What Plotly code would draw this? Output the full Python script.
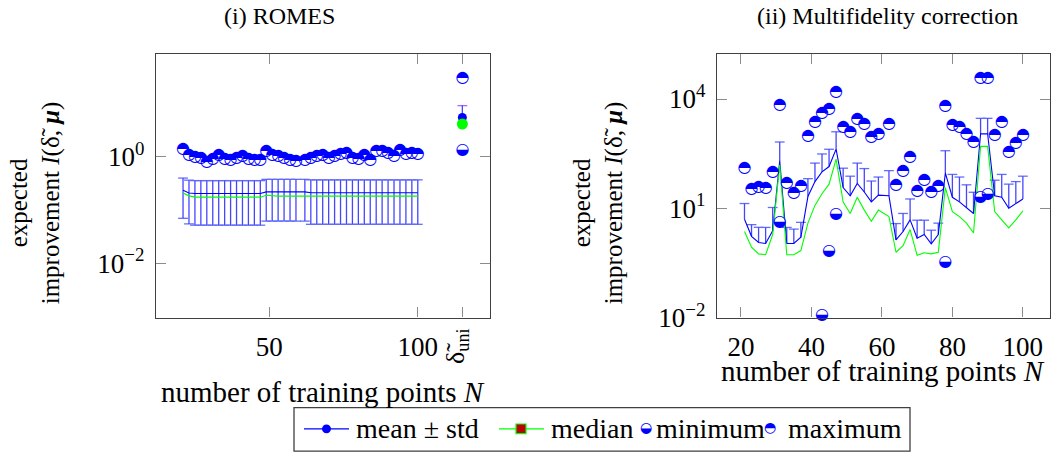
import plotly.graph_objects as go

W, H = 1060, 470
SERIF = "Liberation Serif"
BLUE = "#0000ff"
BAR = "#4646ff"
GREEN = "#00ff00"
FRAME = "#404040"
TICK = "#8c8c8c"

# number of training points N
N = [21, 23, 25, 27, 29, 31, 33, 35, 37, 39, 41, 43, 45, 47, 49, 51, 53, 55, 57, 59,
     62, 64, 66, 68, 70, 72, 74, 76, 78, 80, 82, 84, 86, 88, 90, 92, 94, 96, 98, 100]

# (i) ROMES
romes_mean = [0.235, 0.21, 0.205, 0.205, 0.205, 0.205, 0.205, 0.205, 0.205, 0.205,
              0.205, 0.205, 0.205, 0.205, 0.22, 0.22, 0.22, 0.22, 0.22, 0.22,
              0.22, 0.212, 0.212, 0.212, 0.212, 0.212, 0.212, 0.212, 0.212, 0.212,
              0.212, 0.212, 0.212, 0.212, 0.212, 0.212, 0.212, 0.212, 0.212, 0.212]
romes_std = [0.165, 0.155, 0.153, 0.153, 0.153, 0.153, 0.153, 0.153, 0.153, 0.153,
             0.153, 0.153, 0.153, 0.153, 0.158, 0.158, 0.158, 0.158, 0.158, 0.158,
             0.158, 0.158, 0.158, 0.158, 0.158, 0.158, 0.158, 0.158, 0.158, 0.158,
             0.158, 0.158, 0.158, 0.158, 0.158, 0.158, 0.158, 0.158, 0.158, 0.158]
romes_median = [0.21, 0.185, 0.175, 0.175, 0.175, 0.175, 0.175, 0.175, 0.175, 0.175,
                0.175, 0.175, 0.175, 0.175, 0.19, 0.185, 0.183, 0.183, 0.183, 0.183,
                0.183, 0.183, 0.183, 0.183, 0.183, 0.183, 0.183, 0.183, 0.183, 0.183,
                0.183, 0.183, 0.183, 0.183, 0.183, 0.183, 0.183, 0.183, 0.183, 0.183]
romes_max = [1.42, 1.07, 0.99, 0.96, 0.81, 0.93, 1.10, 0.93, 0.86, 0.96,
             1.06, 0.93, 0.89, 0.89, 1.27, 1.10, 1.06, 0.96, 0.86, 0.83,
             0.86, 0.96, 1.03, 1.10, 0.96, 1.03, 1.13, 1.16, 0.96, 0.93,
             1.10, 0.89, 1.27, 1.27, 1.18, 1.03, 1.34, 1.13, 1.16, 1.13]

# uniform-indicator reference (delta_uni), shown next to the ROMES series
uni_pos = 115
uni_mean = 5.5
uni_std = 3.7
uni_median = 4.15
uni_min = 1.36
uni_max = 30.5

# (ii) Multifidelity correction
mf_mean = [5.0, 1.7, 1.15, 1.08, 2.4, 200, 1.08, 1.08, 1.6, 21,
           54, 100, 140, 420, 37, 22, 48, 28, 15, 23,
           22, 1.35, 2.3, 4.8, 1.5, 1.9, 1.05, 1.9, 93, 20,
           15, 10.5, 7.2, 1100, 1100, 22, 20, 10, 13.5, 18]
mf_std = [8.5, 1.85, 1.85, 1.9, 8.1, 460, 1.9, 1.6, 2.5, 44,
          120, 210, 277, 840, 89, 54, 126, 95, 41, 49,
          86, 2.45, 4.9, 13.2, 3.2, 2.8, 1.45, 2.0, 287, 65,
          57, 33.5, 20.3, 1850, 1850, 37, 65, 36, 40.5, 58]
mf_median = [2.3, 0.85, 0.56, 0.53, 1.9, 157, 0.53, 0.53, 0.69, 3.9,
             12, 25, 46, 224, 14.8, 7.2, 20, 8.9, 4.4, 8.9,
             5.9, 0.62, 0.94, 2.6, 0.51, 0.6, 0.56, 0.62, 37, 8.1,
             5.9, 3.9, 2.1, 500, 500, 8.1, 4.8, 2.9, 4.8, 8.5]
mf_min = [0, 0, 0, 0, 0, 4.3, 0, 0, 0, 0,
          0, 0.0115, 0.69, 6.8, 0, 0, 0, 0, 0, 0,
          0, 0, 0, 0, 0, 0, 0, 0, 0.34, 0,
          0, 0, 0, 21, 24, 0, 0, 0, 0, 0]
mf_max = [129, 34, 39, 35, 98, 6900, 48, 26, 42, 955,
          2400, 4170, 5250, 15500, 1700, 1260, 2750, 2040, 910, 1100,
          2000, 44, 105, 250, 30, 60, 27.5, 42, 6450, 1950,
          1700, 1100, 660, 38000, 38000, 1020, 2400, 340, 630, 1020]

fig = go.Figure()


def xp(p):
    return p / W


def yp(p):
    return 1 - p / H


def add_mean(x, mean, std, xa, ya, plus_only=False, marker=None):
    """Mean line with mean +/- std whiskers (lower whisker only where it stays positive)."""
    lower = [0 if (plus_only or m - s <= 0) else s for m, s in zip(mean, std)]
    cap_x, cap_y = [], []
    for xi, m, s, lo in zip(x, mean, std, lower):
        cap_x.append(xi)
        cap_y.append(m + s)
        if lo > 0:
            cap_x.append(xi)
            cap_y.append(m - lo)
    fig.add_trace(go.Scatter(
        x=cap_x, y=cap_y, mode="markers", xaxis=xa, yaxis=ya,
        marker=dict(symbol="line-ew-open", size=7, line=dict(color=BAR, width=1.3)),
        showlegend=False, hoverinfo="skip", cliponaxis=False))
    fig.add_trace(go.Scatter(
        x=x, y=mean, xaxis=xa, yaxis=ya,
        mode="markers" if marker else "lines",
        line=dict(color=BLUE, width=1.1),
        marker=marker,
        error_y=dict(type="data", symmetric=False, array=std, arrayminus=lower,
                     color=BAR, thickness=1.3, width=0),
        showlegend=False, hoverinfo="skip", cliponaxis=False))


def add_median(x, med, xa, ya, as_marker=False):
    if as_marker:
        fig.add_trace(go.Scatter(x=x, y=med, mode="markers", xaxis=xa, yaxis=ya,
                                 marker=dict(symbol="circle", size=11, color=GREEN,
                                             line=dict(width=0)),
                                 showlegend=False, hoverinfo="skip", cliponaxis=False))
    else:
        fig.add_trace(go.Scatter(x=x, y=med, mode="lines", xaxis=xa, yaxis=ya,
                                 line=dict(color=GREEN, width=1.1),
                                 showlegend=False, hoverinfo="skip"))


def add_half(x, vals, glyph, xa, ya):
    """Half-filled circle markers: white disc underneath, half-filled glyph on top."""
    pts = [(xi, v) for xi, v in zip(x, vals) if v > 0]
    px = [p[0] for p in pts]
    py = [p[1] for p in pts]
    fig.add_trace(go.Scatter(x=px, y=py, mode="markers", xaxis=xa, yaxis=ya,
                             marker=dict(symbol="circle", size=10, color="white",
                                         line=dict(width=0)),
                             showlegend=False, hoverinfo="skip", cliponaxis=False))
    fig.add_trace(go.Scatter(x=px, y=py, mode="text", xaxis=xa, yaxis=ya,
                             text=[glyph] * len(px), textposition="middle center",
                             textfont=dict(family="DejaVu Sans", size=16, color=BLUE),
                             showlegend=False, hoverinfo="skip", cliponaxis=False))


MIN_GLYPH = "\u25D2"   # circle with lower half filled
MAX_GLYPH = "\u25D3"   # circle with upper half filled

# ---- (i) ROMES ----
add_mean(N, romes_mean, romes_std, "x", "y")
add_median(N, romes_median, "x", "y")
add_mean([uni_pos], [uni_mean], [uni_std], "x", "y", plus_only=True,
         marker=dict(symbol="circle", size=9, color=BLUE, line=dict(width=0)))
add_median([uni_pos], [uni_median], "x", "y", as_marker=True)
add_half([uni_pos], [uni_min], MIN_GLYPH, "x", "y")
add_half(N + [uni_pos], romes_max + [uni_max], MAX_GLYPH, "x", "y")

# ---- (ii) Multifidelity correction ----
add_mean(N, mf_mean, mf_std, "x2", "y2")
add_median(N, mf_median, "x2", "y2")
add_half(N, mf_min, MIN_GLYPH, "x2", "y2")
add_half(N, mf_max, MAX_GLYPH, "x2", "y2")

axis_common = dict(showline=True, linecolor=FRAME, linewidth=1.3, mirror="ticks",
                   ticks="inside", ticklen=10, tickcolor=TICK, tickwidth=1.2,
                   showgrid=False, zeroline=False,
                   tickfont=dict(family=SERIF, size=27, color="black"))

ydom = [yp(328), yp(56)]

fig.update_layout(
    width=W, height=H, margin=dict(l=0, r=0, t=0, b=0),
    paper_bgcolor="white", plot_bgcolor="white", showlegend=False,
    xaxis=dict(domain=[xp(156), xp(490)], range=[11.9, 124.3], anchor="y",
               tickvals=[50, 100, uni_pos], ticktext=["50", "100", ""],
               ticklabelstandoff=5, **axis_common),
    yaxis=dict(domain=ydom, type="log", range=[-3.02, 1.93], anchor="x",
               tickvals=[1e-2, 1], ticktext=["10<sup>\u22122</sup>", "10<sup>0</sup>"],
               ticklabelstandoff=5, **axis_common),
    xaxis2=dict(domain=[xp(717), xp(1050)], range=[13.2, 107.7], anchor="y2",
                tickvals=[20, 40, 60, 80, 100], ticklabelstandoff=5, **axis_common),
    yaxis2=dict(domain=ydom, type="log", range=[-2.0, 5.23], anchor="x2",
                tickvals=[1e-2, 1e1, 1e4],
                ticktext=["10<sup>\u22122</sup>", "10<sup>1</sup>", "10<sup>4</sup>"],
                ticklabelstandoff=5, **axis_common),
)

ann = []


def label(text, x, y, size=26, angle=0, xanchor="center", **kw):
    ann.append(dict(text=text, x=x, y=y, xref=kw.pop("xref", "paper"), yref="paper",
                    xanchor=xanchor, yanchor="middle", showarrow=False, textangle=angle,
                    font=dict(family=SERIF, size=size, color="black"), **kw))


label("(i) ROMES", xp(279), yp(17), size=24)
label("(ii) Multifidelity correction", xp(887), yp(17), size=24)
ylab = "expected<br>improvement <i>I</i>(\u03B4\u0303, <b><i>\u03BC</i></b>)"
label(ylab, xp(35), yp(210), size=25, angle=-90)
label(ylab, xp(598), yp(210), size=25, angle=-90)
label("number of training points <i>N</i>", xp(323), yp(405), size=29)
label("number of training points <i>N</i>", xp(883), yp(383), size=29)
label("\u03B4\u0303<sub>uni</sub>", uni_pos, yp(357), angle=-90, xref="x", xshift=-6)

# legend box
LY = 443
shapes = [dict(type="rect", xref="paper", yref="paper", x0=xp(294), x1=xp(910),
               y0=yp(466), y1=yp(421), line=dict(color=FRAME, width=1.3),
               fillcolor="white", layer="above")]
shapes.append(dict(type="line", xref="paper", yref="paper", x0=xp(304), x1=xp(349),
                   y0=yp(LY), y1=yp(LY), line=dict(color=BLUE, width=1.2), layer="above"))
shapes.append(dict(type="circle", xref="paper", yref="paper", x0=xp(322), x1=xp(331),
                   y0=yp(LY + 4.5), y1=yp(LY - 4.5), line=dict(width=0),
                   fillcolor=BLUE, layer="above"))
shapes.append(dict(type="line", xref="paper", yref="paper", x0=xp(499), x1=xp(544),
                   y0=yp(LY), y1=yp(LY), line=dict(color=GREEN, width=1.2), layer="above"))
shapes.append(dict(type="rect", xref="paper", yref="paper", x0=xp(516), x1=xp(526),
                   y0=yp(LY + 5), y1=yp(LY - 5), line=dict(color=GREEN, width=1.2),
                   fillcolor="#c00000", layer="above"))
fig.update_layout(shapes=shapes)

label("mean \u00B1 std", xp(354), yp(LY), size=28, xanchor="left")
label("median", xp(549), yp(LY), size=28, xanchor="left")
ann.append(dict(text=MIN_GLYPH, x=xp(646), y=yp(LY), xref="paper", yref="paper",
                yshift=-8, showarrow=False,
                font=dict(family="DejaVu Sans", size=14, color=BLUE)))
label("minimum", xp(654), yp(LY), size=28, xanchor="left")
ann.append(dict(text=MAX_GLYPH, x=xp(778), y=yp(LY), xref="paper", yref="paper",
                yshift=-8, showarrow=False,
                font=dict(family="DejaVu Sans", size=14, color=BLUE)))
label("maximum", xp(786), yp(LY), size=28, xanchor="left")

fig.update_layout(annotations=ann)

fig.write_html("out.html")
